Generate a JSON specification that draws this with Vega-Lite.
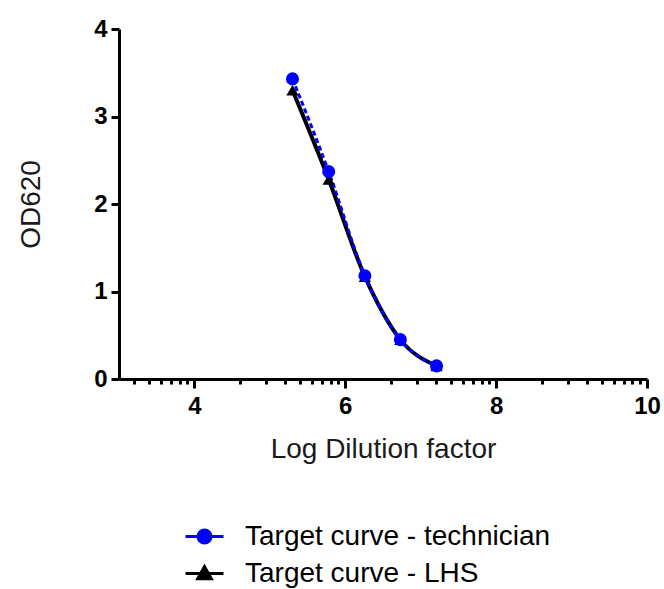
{
  "$schema": "https://vega.github.io/schema/vega-lite/v6.json",
  "autosize": {"type": "none"},
  "width": 528,
  "height": 350,
  "padding": {"left": 119, "top": 29, "right": 17, "bottom": 210},
  "background": "white",
  "config": {
    "view": {"stroke": null},
    "font": "Liberation Sans",
    "axis": {
      "grid": false,
      "domainColor": "#000000",
      "domainWidth": 3,
      "tickColor": "#000000",
      "tickWidth": 3,
      "labelFont": "Liberation Sans",
      "labelFontWeight": "bold",
      "labelFontSize": 24,
      "labelColor": "#000000",
      "titleFont": "Liberation Sans",
      "titleFontWeight": "normal",
      "titleFontSize": 28,
      "titleColor": "#1a1a1a"
    }
  },
  "data": {
    "values": [
      {"series": "Target curve - technician", "x": 5.30, "y": 3.43},
      {"series": "Target curve - technician", "x": 5.78, "y": 2.37},
      {"series": "Target curve - technician", "x": 6.26, "y": 1.18},
      {"series": "Target curve - technician", "x": 6.73, "y": 0.45},
      {"series": "Target curve - technician", "x": 7.21, "y": 0.15},
      {"series": "Target curve - LHS", "x": 5.30, "y": 3.30},
      {"series": "Target curve - LHS", "x": 5.78, "y": 2.28},
      {"series": "Target curve - LHS", "x": 6.26, "y": 1.17},
      {"series": "Target curve - LHS", "x": 6.73, "y": 0.45},
      {"series": "Target curve - LHS", "x": 7.21, "y": 0.15}
    ]
  },
  "encoding": {
    "x": {
      "field": "x",
      "type": "quantitative",
      "scale": {"domain": [3, 10], "nice": false, "zero": false},
      "axis": {
        "title": "Log Dilution factor",
        "values": [3.204, 3.398, 3.556, 3.690, 3.806, 3.908, 4, 4.602, 4.954, 5.204, 5.398, 5.556, 5.690, 5.806, 5.908, 6, 6.602, 6.954, 7.204, 7.398, 7.556, 7.690, 7.806, 7.908, 8, 8.602, 8.954, 9.204, 9.398, 9.556, 9.690, 9.806, 9.908, 10],
        "labelExpr": "datum.value % 2 == 0 ? format(datum.value, 'd') : ''",
        "labelOverlap": false,
        "labelFlush": false,
        "labelPadding": 6,
        "tickSize": {"condition": {"test": "datum.value % 2 == 0", "value": 9}, "value": 5},
        "titleBaseline": "alphabetic",
        "titleY": 78
      }
    },
    "y": {
      "field": "y",
      "type": "quantitative",
      "scale": {"domain": [0, 4], "nice": false},
      "axis": {
        "title": "OD620",
        "values": [0, 1, 2, 3, 4],
        "labelExpr": "format(datum.value, 'd')",
        "tickSize": 8,
        "labelPadding": 4,
        "titleBaseline": "alphabetic",
        "titleX": -80
      }
    },
    "color": {
      "field": "series",
      "type": "nominal",
      "scale": {"domain": ["Target curve - technician", "Target curve - LHS"], "range": ["#0000ff", "#000000"]},
      "legend": {
        "title": null,
        "orient": "none",
        "legendX": 65,
        "legendY": 487,
        "padding": 0,
        "symbolType": "circle",
        "symbolSize": 1444,
        "symbolStrokeWidth": 3,
        "symbolOpacity": 1,
        "labelFont": "Liberation Sans",
        "labelFontSize": 28,
        "labelColor": "#000000",
        "labelOffset": 20,
        "labelLimit": 500,
        "rowPadding": 2,
        "encode": {
          "symbols": {
            "update": {
              "shape": {"signal": "datum.value == 'Target curve - technician' ? 'M-1,0H1M0.34,0A0.34,0.34,0,1,1,-0.34,0A0.34,0.34,0,1,1,0.34,0Z' : 'M-1,0H1M0,-0.36L0.36,0.28L-0.36,0.28Z'"},
              "size": {"value": 1444},
              "fill": {"signal": "datum.value == 'Target curve - technician' ? '#0000ff' : '#000000'"},
              "stroke": {"signal": "datum.value == 'Target curve - technician' ? '#0000ff' : '#000000'"},
              "strokeWidth": {"value": 3},
              "fillOpacity": {"value": 1},
              "strokeOpacity": {"value": 1},
              "opacity": {"value": 1}
            }
          }
        }
      }
    }
  },
  "layer": [
    {
      "transform": [{"filter": "datum.series == 'Target curve - LHS'"}],
      "mark": {"type": "line", "interpolate": "monotone", "strokeWidth": 4}
    },
    {
      "transform": [{"filter": "datum.series == 'Target curve - technician'"}],
      "mark": {"type": "line", "interpolate": "monotone", "strokeWidth": 3, "strokeDash": [5, 3]}
    },
    {
      "transform": [{"filter": "datum.series == 'Target curve - LHS'"}],
      "mark": {"type": "point", "shape": "triangle-up", "filled": true, "size": 150, "opacity": 1}
    },
    {
      "transform": [{"filter": "datum.series == 'Target curve - technician'"}],
      "mark": {"type": "point", "shape": "circle", "filled": true, "size": 170, "opacity": 1}
    }
  ]
}
